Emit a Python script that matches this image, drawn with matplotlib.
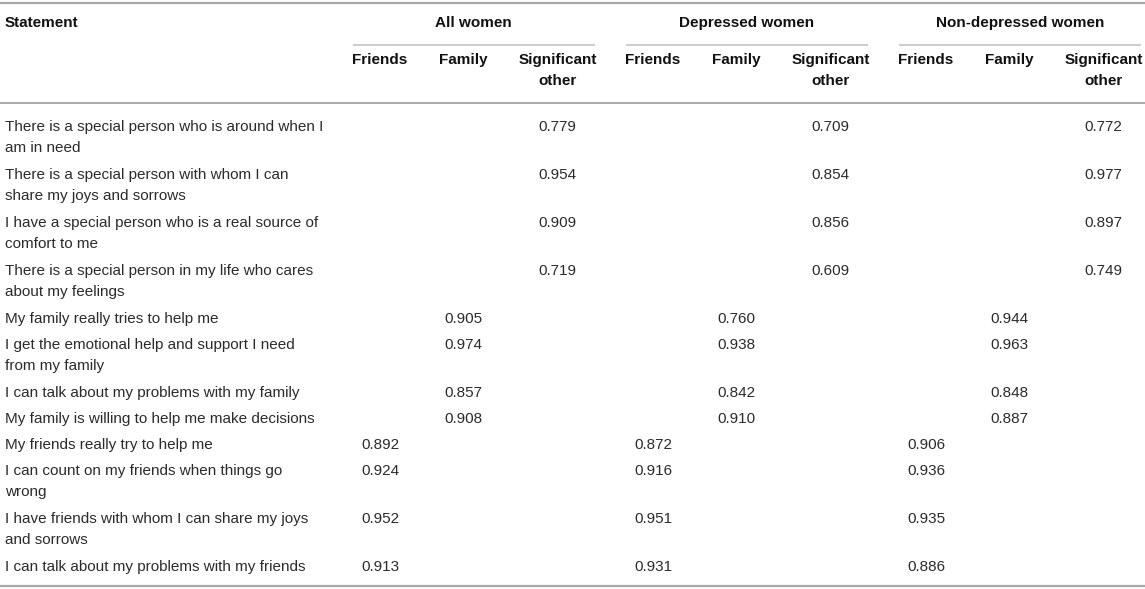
import matplotlib
matplotlib.use("Agg")
import matplotlib.pyplot as plt

# table content
statements = [
    "There is a special person who is around when I\nam in need",
    "There is a special person with whom I can\nshare my joys and sorrows",
    "I have a special person who is a real source of\ncomfort to me",
    "There is a special person in my life who cares\nabout my feelings",
    "My family really tries to help me",
    "I get the emotional help and support I need\nfrom my family",
    "I can talk about my problems with my family",
    "My family is willing to help me make decisions",
    "My friends really try to help me",
    "I can count on my friends when things go\nwrong",
    "I have friends with whom I can share my joys\nand sorrows",
    "I can talk about my problems with my friends",
]
groups = ["All women", "Depressed women", "Non-depressed women"]
subscales = ["Friends", "Family", "Significant\nother"]
# which subscale column each statement loads on (0 friends, 1 family, 2 SO)
loading_col = [2, 2, 2, 2, 1, 1, 1, 1, 0, 0, 0, 0]
all_women = [0.779, 0.954, 0.909, 0.719, 0.905, 0.974, 0.857, 0.908,
             0.892, 0.924, 0.952, 0.913]
depressed = [0.709, 0.854, 0.856, 0.609, 0.760, 0.938, 0.842, 0.910,
             0.872, 0.916, 0.951, 0.931]
non_depressed = [0.772, 0.977, 0.897, 0.749, 0.944, 0.963, 0.848, 0.887,
                 0.906, 0.936, 0.935, 0.886]
loadings = [all_women, depressed, non_depressed]

W, H = 1145, 589
FS = 11
BODY = "#2b2b2b"
HEAD = "#111111"
RULE = "#a8a8a8"
LSP = 1.66

plt.rcParams["font.family"] = ["Liberation Sans", "DejaVu Sans"]

fig = plt.figure(figsize=(W / 100, H / 100), dpi=100)
ax = fig.add_axes([0, 0, 1, 1])
ax.set_xlim(0, W)
ax.set_ylim(H, 0)
ax.axis("off")

# column layout (pixel space)
stmt_x = 5
group_step = 273
sub_offsets = [380, 463, 557.5]
sub_halfw = [27, 24, 40]
line_h = 22
row_pad = 4

# rules
ax.plot([0, W], [3, 3], color=RULE, lw=1.6, solid_capstyle="butt")
ax.plot([0, W], [103, 103], color=RULE, lw=1.4, solid_capstyle="butt")
ax.plot([0, W], [586, 586], color=RULE, lw=1.6, solid_capstyle="butt")

# header
ax.text(stmt_x, 23, "Statement", ha="left", va="center", fontsize=FS,
        fontweight="bold", color=HEAD)
for g, name in enumerate(groups):
    xs = [o + g * group_step for o in sub_offsets]
    left = xs[0] - sub_halfw[0]
    right = xs[-1] + sub_halfw[-1] - 3
    ax.text((left + right) / 2, 23, name, ha="center", va="center",
            fontsize=FS, fontweight="bold", color=HEAD)
    ax.plot([left, right], [45, 45], color="#c4c4c4", lw=1.2,
            solid_capstyle="butt")
    for x, s in zip(xs, subscales):
        ax.text(x, 53, s, ha="center", va="top", fontsize=FS,
                fontweight="bold", color=HEAD, linespacing=LSP)

# body rows
y = 126
for i, st in enumerate(statements):
    nlines = st.count("\n") + 1
    ax.text(stmt_x, y - 6, st, ha="left", va="top", fontsize=FS,
            color=BODY, linespacing=LSP)
    c = loading_col[i]
    for g in range(3):
        ax.text(sub_offsets[c] + g * group_step, y + 1,
                f"{loadings[g][i]:.3f}", ha="center", va="center",
                fontsize=FS, color=BODY)
    y += nlines * line_h + row_pad

fig.savefig("out.png", dpi=100)
